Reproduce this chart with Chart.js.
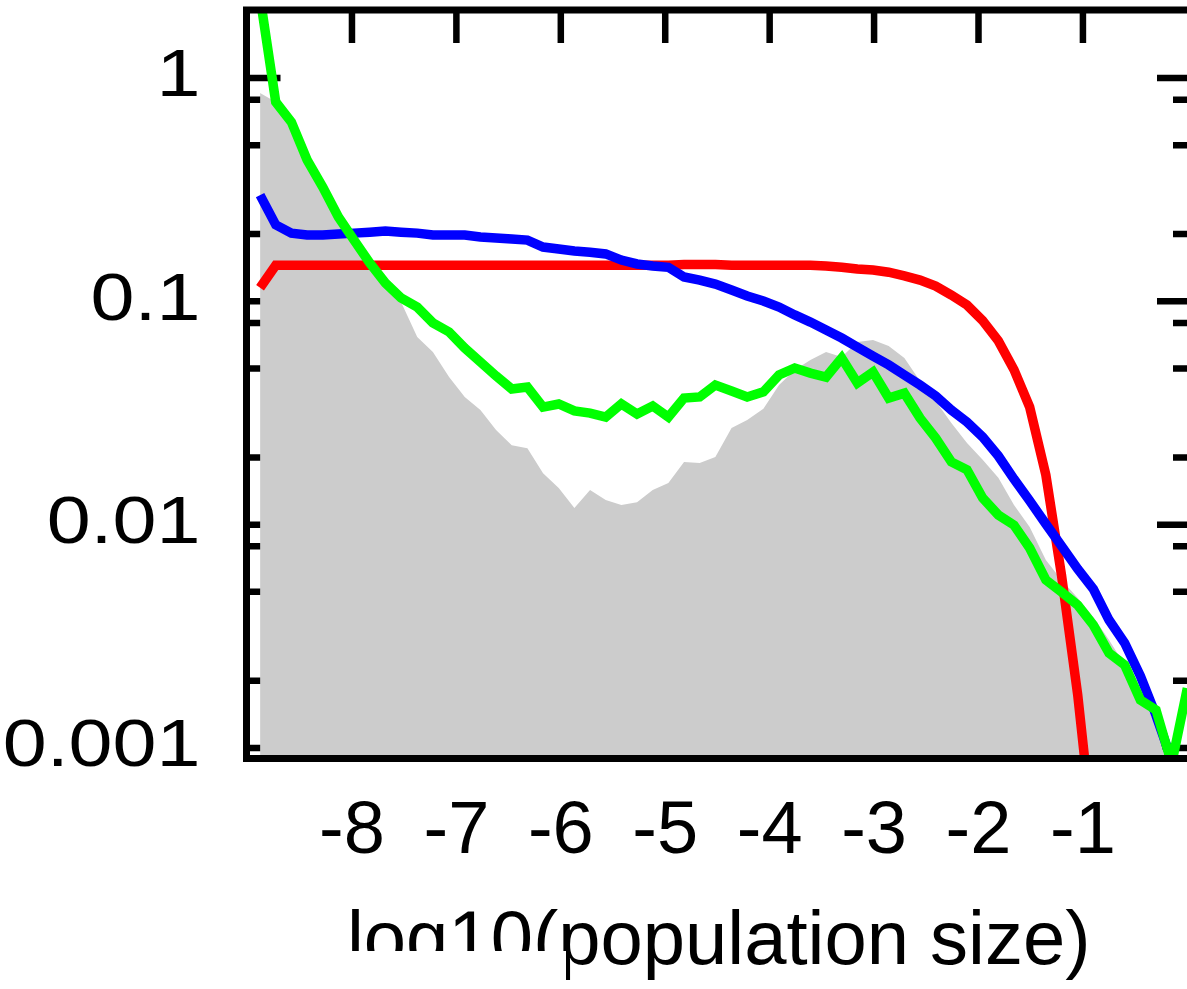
<!DOCTYPE html>
<html><head><meta charset="utf-8">
<script src="https://cdn.jsdelivr.net/npm/chart.js@4.4.1/dist/chart.umd.min.js"></script>
<style>html,body{margin:0;padding:0;background:#fff;overflow:hidden;}#wrap{position:absolute;left:0;top:0;width:1200px;height:989px;}</style>
</head><body><div id="wrap"><canvas id="c" width="1200" height="989"></canvas></div>
<script>
const xValues = [-8.88,-8.73,-8.58,-8.43,-8.28,-8.13,-7.98,-7.83,-7.68,-7.53,
  -7.375,-7.225,-7.07,-6.92,-6.77,-6.62,-6.47,-6.32,-6.17,-6.02,
  -5.87,-5.72,-5.57,-5.42,-5.27,-5.12,-4.97,-4.82,-4.67,-4.52,
  -4.365,-4.215,-4.06,-3.91,-3.76,-3.61,-3.46,-3.31,-3.16,-3.01,
  -2.86,-2.71,-2.56,-2.41,-2.26,-2.11,-1.96,-1.81,-1.66,-1.51,
  -1.355,-1.205,-1.05,-0.90,-0.75,-0.60,-0.45,-0.30,-0.15,0.00];
const grayValues = [0.857,0.781,0.635,0.430,0.325,0.2385,0.188,0.144,0.118,0.0993,
  0.0692,0.0593,0.0458,0.0373,0.0326,0.0265,0.0227,0.0220,0.0170,0.0146,
  0.01187,0.0143,0.0129,0.01225,0.0126,0.0143,0.01535,0.0191,0.0189,0.0201,
  0.0271,0.0294,0.033,0.0422,0.0492,0.0546,0.0593,0.0563,0.0657,0.0671,
  0.0631,0.0557,0.044,0.0358,0.0285,0.0232,0.0195,0.0162,0.01225,0.00975,
  0.00695,0.00565,0.00469,0.00386,0.00304,0.00235,0.00173,0.00127,0.0007,0.0008];
const redValues = [0.115,0.145,0.145,0.145,0.145,0.145,0.145,0.145,0.145,0.145,
  0.145,0.145,0.145,0.145,0.145,0.145,0.145,0.145,0.145,0.145,
  0.145,0.145,0.145,0.145,0.145,0.145,0.145,0.146,0.146,0.146,
  0.145,0.145,0.145,0.145,0.145,0.145,0.144,0.142,0.1395,0.138,
  0.135,0.130,0.1245,0.117,0.1067,0.0962,0.082,0.0665,0.0494,0.0336,
  0.0167,0.00593,0.00173,0.00039,null,null,null,null,null,null];
const blueValues = [0.299,0.220,0.202,0.198,0.198,0.200,0.202,0.204,0.2065,0.204,
  0.202,0.198,0.198,0.198,0.194,0.192,0.190,0.188,0.175,0.1715,
  0.168,0.166,0.163,0.153,0.147,0.144,0.142,0.1285,0.1245,0.1195,
  0.1124,0.1056,0.1003,0.0943,0.0869,0.0807,0.0744,0.0685,0.0624,0.0569,
  0.0519,0.0468,0.0422,0.0377,0.0326,0.0288,0.0247,0.0203,0.0160,0.0128,
  0.01007,0.00802,0.00633,0.00515,0.00374,0.00295,0.00210,0.00140,0.00088,null];
const greenValues = [2.3,0.781,0.635,0.430,0.325,0.2385,0.188,0.1484,0.1208,0.1035,
  0.0942,0.080,0.0729,0.0618,0.0535,0.0463,0.0405,0.0413,0.0336,0.0347,
  0.0323,0.0316,0.0303,0.0347,0.0313,0.034,0.0303,0.0369,0.0373,0.0422,
  0.0397,0.0373,0.0393,0.0468,0.0503,0.0477,0.0458,0.0557,0.0431,0.0482,
  0.0369,0.0388,0.030,0.0244,0.0191,0.0176,0.01316,0.01104,0.00995,0.00786,
  0.00565,0.00499,0.00436,0.00355,0.00266,0.00235,0.00164,0.00148,0.00085,0.00185];
const xTickValues = [-8,-7,-6,-5,-4,-3,-2,-1];
const xTickLabels = ['-8','-7','-6','-5','-4','-3','-2','-1'];
const yTickValues = [1,0.1,0.01,0.001];
const yTickLabels = ['1','0.1','0.01','0.001'];
const yMinorTickValues = [0.8,0.5,0.2,0.08,0.05,0.02,0.008,0.005,0.002];
const xAxisTitle = 'log10(population size)';

const FONT = "'Liberation Sans', Arial, Helvetica, sans-serif";
const pts = vals => xValues.map((x,i)=>({x:x, y:vals[i]}));

const framePlugin = {
  id:'frame',
  beforeDraw(chart){
    const s = chart.scales.y;
    if (s && !s._stretched) {
      s._stretched = true;
      const orig = s.drawLabels.bind(s);
      s.drawLabels = function(area){
        const ctx = this.ctx, ax = this.right - 46;
        ctx.save(); ctx.translate(ax,0); ctx.scale(1.18,1); ctx.translate(-ax,0);
        orig(area); ctx.restore();
      };
    }
  },
  beforeDatasetsDraw(chart){
    const {ctx, chartArea:a, scales:{x,y}} = chart;
    ctx.save();
    ctx.strokeStyle='#000'; ctx.lineWidth=6.5; ctx.lineCap='butt';
    ctx.beginPath();
    xTickValues.forEach(v=>{const px=x.getPixelForValue(v);
      ctx.moveTo(px,a.top); ctx.lineTo(px,a.top+33);
      ctx.moveTo(px,a.bottom); ctx.lineTo(px,a.bottom-33);});
    yTickValues.forEach(v=>{const py=y.getPixelForValue(v);
      ctx.moveTo(a.left,py); ctx.lineTo(a.left+34,py);
      ctx.moveTo(a.right,py); ctx.lineTo(a.right-34,py);});
    yMinorTickValues.forEach(v=>{const py=y.getPixelForValue(v);
      ctx.moveTo(a.left,py); ctx.lineTo(a.left+18,py);
      ctx.moveTo(a.right,py); ctx.lineTo(a.right-18,py);});
    ctx.stroke();
    ctx.restore();
  },
  afterDatasetsDraw(chart){
    const {ctx, chartArea:a} = chart;
    ctx.save();
    ctx.strokeStyle='#000'; ctx.lineWidth=7; ctx.lineCap='square';
    ctx.strokeRect(a.left,a.top,a.right-a.left,a.bottom-a.top);
    ctx.restore();
  },
  afterDraw(chart){
    const ctx=chart.ctx;
    ctx.save(); ctx.fillStyle='#fff'; ctx.fillRect(0,951,566,38); ctx.restore();
  }
};

const noPad = s => { s.paddingTop=0; s.paddingBottom=0; s.paddingLeft=0; s.paddingRight=0; };

new Chart(document.getElementById('c'), {
  type:'line',
  data:{datasets:[
    {label:'green', data:pts(greenValues), borderColor:'#00ff00', borderWidth:9.5, pointRadius:0, fill:false, order:1},
    {label:'blue', data:pts(blueValues), borderColor:'#0000ff', borderWidth:9.5, pointRadius:0, fill:false, order:2},
    {label:'red', data:pts(redValues), borderColor:'#ff0000', borderWidth:9.5, pointRadius:0, fill:false, order:3},
    {label:'gray', data:pts(grayValues), borderColor:'rgba(0,0,0,0)', borderWidth:0, backgroundColor:'#cccccc', pointRadius:0, fill:'start', order:4}
  ]},
  options:{
    responsive:false, animation:false, devicePixelRatio:1,
    layout:{padding:{left:0,right:9,top:10,bottom:0}},
    plugins:{legend:{display:false}, tooltip:{enabled:false}},
    scales:{
      x:{type:'linear', min:-9.01, max:0.035,
        grid:{display:false, drawTicks:false}, border:{display:false},
        afterBuildTicks:s=>{s.ticks=xTickValues.map(v=>({value:v}));},
        afterFit:s=>{s.height=230.5; noPad(s);},
        ticks:{autoSkip:false, maxRotation:0, padding:30, color:'#000', font:{family:FONT,size:74},
          callback:(v,i)=>xTickLabels[i]},
        title:{display:true, text:xAxisTitle, color:'#000', font:{family:FONT,size:76}, padding:{top:0,bottom:0}}
      },
      y:{type:'logarithmic', min:0.000897, max:2.016,
        grid:{display:false, drawTicks:false}, border:{display:false},
        afterBuildTicks:s=>{s.ticks=yTickValues.map(v=>({value:v}));},
        afterFit:s=>{s.width=246.5; noPad(s);},
        ticks:{autoSkip:false, padding:46, color:'#000', font:{family:FONT,size:67},
          callback:(v,i)=>yTickLabels[i]}
      }
    }
  },
  plugins:[framePlugin]
});
</script></body></html>
